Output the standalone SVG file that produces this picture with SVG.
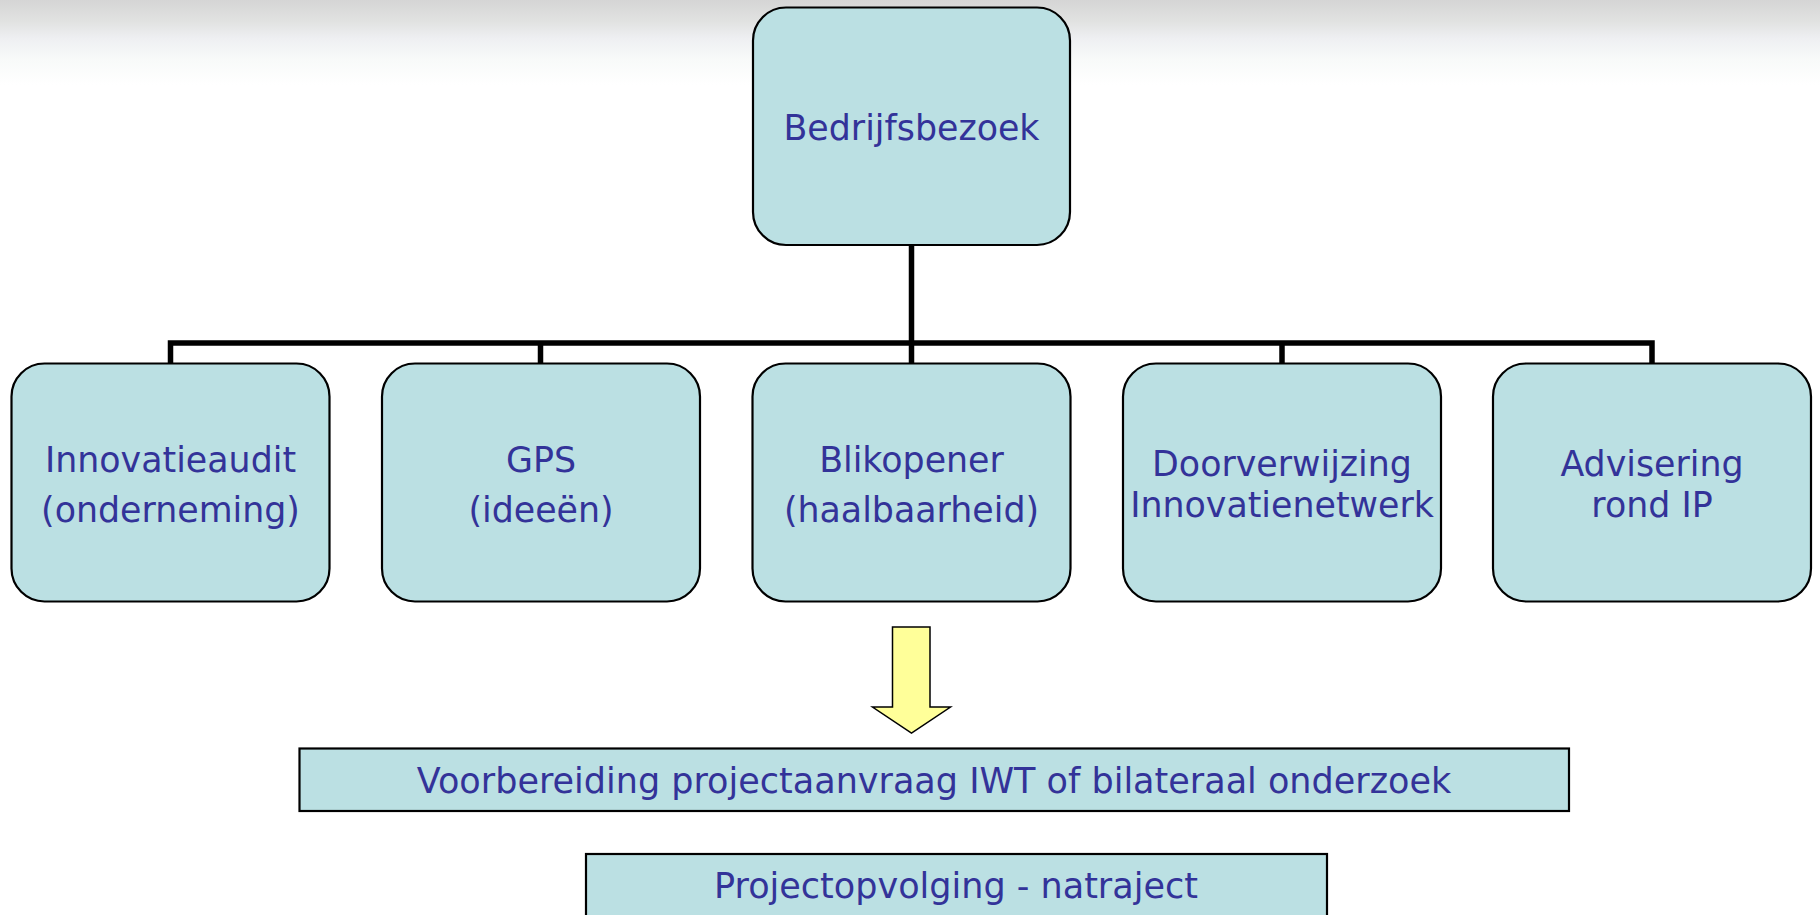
<svg xmlns="http://www.w3.org/2000/svg" width="1820" height="915" viewBox="0 0 1820 915">
<defs>
<linearGradient id="bg" x1="0" y1="0" x2="0" y2="1">
<stop offset="0" stop-color="#d5d5d5"/>
<stop offset="0.25" stop-color="#e1e2e1"/>
<stop offset="0.45" stop-color="#eeeff2"/>
<stop offset="0.7" stop-color="#f8faf9"/>
<stop offset="1" stop-color="#ffffff"/>
</linearGradient>
<style>
.box{fill:#bbe0e3;stroke:#000;stroke-width:2.2}
.t{font-family:"DejaVu Sans","Verdana",sans-serif;font-size:34.8px;fill:#333399;text-anchor:middle}
.tb{font-size:35px}
.conn{fill:none;stroke:#000;stroke-width:5.5;stroke-linejoin:miter}
</style>
</defs>
<rect x="0" y="0" width="1820" height="915" fill="#ffffff"/>
<rect x="0" y="0" width="1820" height="85" fill="url(#bg)"/>
<g id="connectors">
<path class="conn" d="M911.5 245 V343"/>
<path class="conn" d="M170.5 363 V343 H1652 V363"/>
<path class="conn" d="M540.5 343 V363"/>
<path class="conn" d="M911.5 343 V363"/>
<path class="conn" d="M1282 343 V363"/>
</g>
<g id="n-bedrijfsbezoek">
<rect class="box" x="753" y="7.5" width="317" height="237.5" rx="33" ry="33"/>
<text class="t" x="911.5" y="140">Bedrijfsbezoek</text>
</g>
<g id="n-innovatieaudit">
<rect class="box" x="11.5" y="363.5" width="318" height="238" rx="33" ry="33"/>
<text class="t" x="170.5" y="472">Innovatieaudit</text>
<text class="t" x="170.5" y="522">(onderneming)</text>
</g>
<g id="n-gps">
<rect class="box" x="382" y="363.5" width="318" height="238" rx="33" ry="33"/>
<text class="t" x="541" y="472">GPS</text>
<text class="t" x="541" y="522">(ideeën)</text>
</g>
<g id="n-blikopener">
<rect class="box" x="752.5" y="363.5" width="318" height="238" rx="33" ry="33"/>
<text class="t" x="911.5" y="472">Blikopener</text>
<text class="t" x="911.5" y="522">(haalbaarheid)</text>
</g>
<g id="n-doorverwijzing">
<rect class="box" x="1123" y="363.5" width="318" height="238" rx="33" ry="33"/>
<text class="t" x="1282" y="476">Doorverwijzing</text>
<text class="t" x="1282" y="517">Innovatienetwerk</text>
</g>
<g id="n-advisering">
<rect class="box" x="1493" y="363.5" width="318" height="238" rx="33" ry="33"/>
<text class="t" x="1652" y="476">Advisering</text>
<text class="t" x="1652" y="517">rond IP</text>
</g>
<g id="arrow">
<path d="M892.5 627 H930 V707 H950.5 L911.5 733 L872.5 707 H892.5 Z" fill="#ffff99" stroke="#000" stroke-width="1.5" stroke-linejoin="miter"/>
</g>
<g id="n-voorbereiding">
<rect class="box" x="299.5" y="748.5" width="1269.5" height="62.5"/>
<text class="t tb" x="934" y="793">Voorbereiding projectaanvraag IWT of bilateraal onderzoek</text>
</g>
<g id="n-projectopvolging">
<rect class="box" x="586" y="854" width="741" height="70"/>
<text class="t tb" x="956" y="898">Projectopvolging - natraject</text>
</g>
</svg>
